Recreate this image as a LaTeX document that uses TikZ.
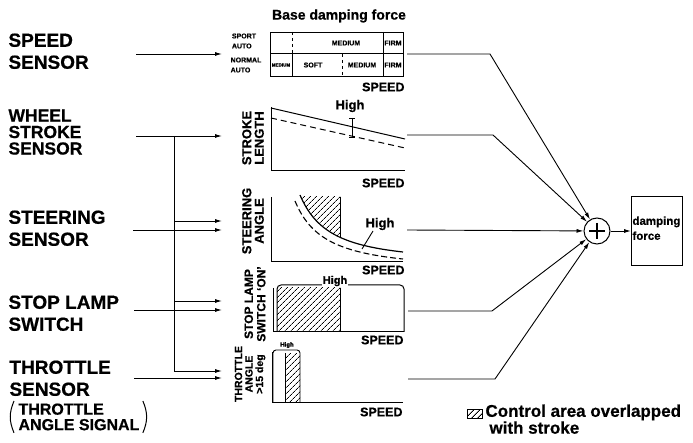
\documentclass[tikz,border=0pt]{standalone}
\usepackage{fontspec}
\setmainfont{Liberation Sans}[BoldFeatures={FakeBold=0.6}]
\usetikzlibrary{arrows.meta,patterns.meta}
\begin{document}
\begin{tikzpicture}[x=1pt,y=-1pt, line width=1pt,
  lab/.style={font=\fontsize{19}{22}\selectfont\bfseries, align=left, inner sep=0pt, anchor=north west},
  arr/.style={-{Latex[length=7pt,width=4pt]}, line width=0.9pt},
  conn/.style={line width=0.9pt},
  ylab/.style={font=\fontsize{13}{12.5}\selectfont\bfseries, rotate=90, align=center, inner sep=0pt},
  spd/.style={font=\fontsize{12.5}{13}\selectfont\bfseries, inner sep=0pt, anchor=east},
  tinytxt/.style={font=\fontsize{7}{10}\selectfont\bfseries, inner sep=0pt, align=left},
  hightxt/.style={font=\fontsize{13}{13}\selectfont\bfseries, inner sep=0pt},
  hatch/.style={pattern={Lines[angle=45,distance=4pt,line width=0.8pt]}},
]
\useasboundingbox (0,0) rectangle (693,443);

% ---------- left labels ----------
\node[lab] (spdS) at (8,33) {SPEED\\SENSOR};
\node[lab, font=\fontsize{17.5}{16.5}\selectfont\bfseries] (whS) at (8,109) {WHEEL\\STROKE\\SENSOR};
\node[lab] (stS) at (8,210) {STEERING\\SENSOR};
\node[lab] (slS) at (8,295) {STOP LAMP\\SWITCH};
\node[lab] (thS) at (9,360) {THROTTLE\\SENSOR};
\node[lab, font=\fontsize{16}{15.5}\selectfont\bfseries] (thA) at (18,403) {THROTTLE\\ANGLE SIGNAL};
\draw ([xshift=-4pt,yshift=2pt]thA.north west) .. controls ([xshift=-9pt,yshift=-10pt]thA.north west) and ([xshift=-9pt,yshift=10pt]thA.south west) .. ([xshift=-4pt,yshift=-2pt]thA.south west);
\draw ([xshift=3pt,yshift=2pt]thA.north east) .. controls ([xshift=8pt,yshift=-10pt]thA.north east) and ([xshift=8pt,yshift=10pt]thA.south east) .. ([xshift=3pt,yshift=-2pt]thA.south east);

% ---------- left arrows ----------
\coordinate (a1s) at (136,54);  \coordinate (a1e) at (222,54);
\coordinate (a2s) at (136,136); \coordinate (a2e) at (222,136);
\coordinate (v0) at (174,136);  \coordinate (v1) at (174,371);
\coordinate (a3u) at (174,221); \coordinate (a3ue) at (222,221);
\coordinate (a3s) at (133,230); \coordinate (a3e) at (222,230);
\coordinate (a4u) at (174,301); \coordinate (a4ue) at (222,301);
\coordinate (a4s) at (134,310); \coordinate (a4e) at (222,310);
\coordinate (a5e1) at (222,371);
\coordinate (a5s) at (134,378); \coordinate (a5e) at (222,378);
\draw[arr] (a1s) -- (a1e);
\draw[arr] (a2s) -- (a2e);
\draw[conn] (v0) -- (v1);
\draw[arr] (a3u) -- (a3ue);
\draw[arr] (a3s) -- (a3e);
\draw[arr] (a4u) -- (a4ue);
\draw[arr] (a4s) -- (a4e);
\draw[arr] (v1) -- (a5e1);
\draw[arr] (a5s) -- (a5e);

% ---------- chart 1 : base damping force ----------
\node[font=\fontsize{14}{16}\selectfont\bfseries, inner sep=0pt] (ttl) at (339,16) {Base damping force};
\node[draw, minimum width=133, minimum height=44, inner sep=0pt, anchor=north west] (b1) at (270,32) {};
\draw (270,54) -- (403,54);
\draw[dashed, line width=0.6pt] (292,32) -- (292,54);
\draw (292,54) -- (292,76);
\draw[dashed, line width=0.6pt] (342,54) -- (342,76);
\draw (383,32) -- (383,76);
\node[tinytxt] (sa) at (244,41) {SPORT\\AUTO};
\node[tinytxt] (na) at (246,65) {NORMAL\\AUTO};
\node[tinytxt] (m1) at (346,43) {MEDIUM};
\node[tinytxt] (f1) at (393,43) {FIRM};
\node[tinytxt, font=\fontsize{4.5}{5}\selectfont\bfseries] (m0) at (281,65) {MEDIUM};
\node[tinytxt] (s1) at (313,65) {SOFT};
\node[tinytxt] (m2) at (362,65) {MEDIUM};
\node[tinytxt] (f2) at (393,65) {FIRM};
\node[spd] (sp1) at (405,87) {SPEED};

% ---------- chart 2 : stroke length ----------
\node[ylab] (yl2) at (253,138) {STROKE\\LENGTH};
\draw (271,107) -- (271,171) -- (405,171);
\draw (271,108) -- (405,139);
\draw[dashed, dash pattern=on 6pt off 4pt] (271,118) -- (405,148);
\draw[line width=0.8pt] (352,118) -- (352,137) (349,137) -- (355,137) (349,118) -- (355,118);
\node[hightxt] (h2) at (350,106) {High};
\node[spd] (sp2) at (405,183) {SPEED};

% ---------- chart 3 : steering angle ----------
\node[ylab] (yl3) at (253,221) {STEERING\\ANGLE};
\begin{scope}
  \clip (300,195) .. controls (315,230) and (340,245) .. (403,252) -- (403,190) -- cycle;
  \fill[hatch] (296,197) rectangle (340,262);
\end{scope}
\draw[line width=0.8pt] (340,197) -- (340,238);
\draw (271,197) -- (271,262) -- (403,262);
\draw[line width=1.2pt] (300,195) .. controls (315,230) and (340,245) .. (403,252);
\draw[line width=1.1pt, dash pattern=on 6pt off 3pt] (295,201) .. controls (310,237) and (336,252) .. (403,259);
\node[hightxt] (h3) at (380,224) {High};
\draw[line width=0.9pt] (373,231) -- (362,249);
\node[spd] (sp3) at (405,270) {SPEED};

% ---------- chart 4 : stop lamp switch ----------
\node[ylab, font=\fontsize{12}{12.5}\selectfont\bfseries] (yl4) at (255,304) {STOP LAMP\\SWITCH `ON'};
\fill[hatch] (277,288) rectangle (340,332);
\draw (340,288) -- (340,332);
\draw (277,332) -- (277,290) [rounded corners=4pt] -- (277,285) -- (404,285) -- (404,332);
\draw (273,288) -- (273,332) -- (404,332);
\node[font=\fontsize{11}{11}\selectfont\bfseries, fill=white, inner sep=1pt] (h4) at (335,281) {High};
\node[spd] (sp4) at (404,340) {SPEED};

% ---------- chart 5 : throttle ----------
\node[ylab, font=\fontsize{10.5}{10.5}\selectfont\bfseries] (yl5) at (250,374) {THROTTLE\\ANGLE\\>15 deg};
\fill[hatch] (285,353) rectangle (300,402);
\draw[line width=0.9pt] (285,353) -- (285,402);
\draw[line width=0.9pt, rounded corners=3pt] (273,402) -- (273,350) -- (300,350) -- (300,402);
\draw (272,352) -- (272,402) -- (403,402);
\node[font=\fontsize{6}{6}\selectfont\bfseries, inner sep=0pt] (h5) at (287,345) {High};
\node[spd] (sp5) at (403,412) {SPEED};

% ---------- summing point and output ----------
\node[draw, circle, minimum size=26, inner sep=0pt, line width=1pt] (sum) at (597,231) {};
\draw[line width=1.2pt] (589,231) -- (605,231) (597,223) -- (597,239);
\node[draw, minimum width=51, minimum height=69, anchor=north west, inner sep=0pt] (df) at (631,196) {};
\node[font=\fontsize{11.5}{15}\selectfont\bfseries, align=left, inner sep=0pt, anchor=north west] (dft) at (632,216) {damping\\force};
\draw[arr] (sum) -- (df);

% ---------- right connectors ----------
\coordinate (r1) at (407,54);  \coordinate (k1) at (490,54);
\coordinate (r2) at (407,135); \coordinate (k2) at (493,135);
\coordinate (r3) at (407,230);
\coordinate (r4) at (408,311); \coordinate (k4) at (492,311);
\coordinate (r5) at (408,379); \coordinate (k5) at (495,379);
\draw[arr] (r1) -- (k1) -- (sum);
\draw[arr] (r2) -- (k2) -- (sum);
\draw[arr] (r3) -- (sum);
\draw[arr] (r4) -- (k4) -- (sum);
\draw[arr] (r5) -- (k5) -- (sum);

% ---------- legend ----------
\node[draw, hatch, minimum width=15, minimum height=9, inner sep=0pt, anchor=north west, line width=0.6pt] (lg) at (467,409) {};
\node[font=\fontsize{17}{14.5}\selectfont\bfseries, align=left, inner sep=0pt, anchor=north west] (lgt) at (485,404) {Control area overlapped\\\hspace*{4pt}with stroke};
\end{tikzpicture}
\end{document}
